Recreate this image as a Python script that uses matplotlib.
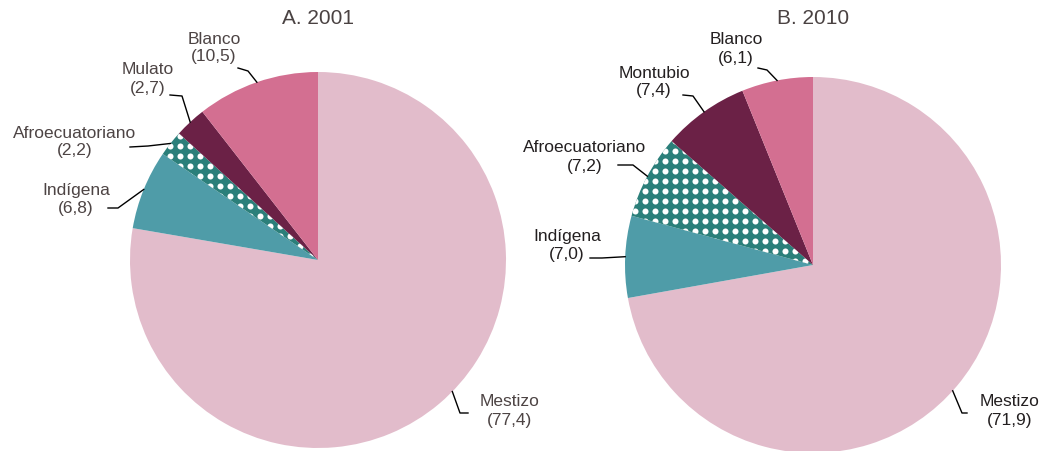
import numpy as np
import matplotlib
matplotlib.use("Agg")
from matplotlib import pyplot as plt

plt.rcParams['font.family'] = ['Liberation Sans', 'DejaVu Sans']

# data
labels_a = ["Mestizo", "Indígena", "Afroecuatoriano", "Mulato", "Blanco"]
values_a = [77.4, 6.8, 2.2, 2.7, 10.5]
labels_b = ["Mestizo", "Indígena", "Afroecuatoriano", "Montubio", "Blanco"]
values_b = [71.9, 7.0, 7.2, 7.4, 6.1]
titles = ["A. 2001", "B. 2010"]

colors = ["#e2bccb", "#4f9ca8", "#2b7f7a", "#6b2146", "#d36f91"]
W, H = 1042, 451


def Y(y):
    # pixel y (top-down) -> axes y (bottom-up)
    return H - y


fig = plt.figure(figsize=(10.42, 4.51), dpi=100)
ax = fig.add_axes([0, 0, 1, 1])

# layout per chart: centre, text position, line start, elbow, anchor angle override
layouts = [
    dict(center=(318, 260), color="#4d4444",
         text=[(510, 411), (76, 199), (75, 142), (148, 79), (214, 48)],
         start=[(468, 413), (108, 208), (130, 147), (170, 95), (238, 68)],
         elbow=[(460, 413), (118, 208), (148, 146), (182, 96), (248, 71)],
         angle=[-44.4, None, None, None, None]),
    dict(center=(813, 265), color="#231f20",
         text=[(1010, 411), (567, 246), (585, 157), (654, 82), (736, 49)],
         start=[(967, 413), (590, 258), (618, 165), (683, 95), (758, 68)],
         elbow=[(962, 413), (602, 258), (633, 165), (693, 96), (767, 70)],
         angle=[-42.0, None, None, None, None]),
]
R = 188

for k, (labs, vals) in enumerate([(labels_a, values_a), (labels_b, values_b)]):
    lay = layouts[k]
    cx, cy = lay["center"]
    wedges, _ = ax.pie(vals, colors=colors, startangle=90, counterclock=False,
                       center=(cx, Y(cy)), radius=R, frame=True,
                       wedgeprops=dict(linewidth=0))

    # white dot pattern on the Afroecuatoriano wedge
    afro = wedges[2]
    gx, gy = np.meshgrid(np.arange(cx - R, cx + 1, 10), np.arange(Y(cy) + 4, Y(cy) + R, 10))
    dots = ax.scatter(gx.ravel(), gy.ravel(), s=19, color="white", linewidths=0, zorder=3)
    dots.set_clip_path(afro)

    ax.text(cx, Y(18), titles[k], ha="center", va="center", fontsize=15, color="#4a4242")

    for i, w in enumerate(wedges):
        ang = lay["angle"][i]
        if ang is None:
            ang = (w.theta1 + w.theta2) / 2
        px = cx + R * np.cos(np.radians(ang))
        py = Y(cy) + R * np.sin(np.radians(ang))
        sx, sy = lay["start"][i]
        ex, ey = lay["elbow"][i]
        ax.plot([sx, ex, px], [Y(sy), Y(ey), py], color="black", lw=1, zorder=4)
        tx, ty = lay["text"][i]
        ax.text(tx, Y(ty), "%s\n(%s)" % (labs[i], ("%.1f" % vals[i]).replace(".", ",")),
                ha="center", va="center", fontsize=12.5, color=lay["color"], linespacing=1.25)

ax.set_xlim(0, W)
ax.set_ylim(0, H)
ax.set_aspect("equal")
ax.axis("off")
fig.savefig("out.png", dpi=100)
